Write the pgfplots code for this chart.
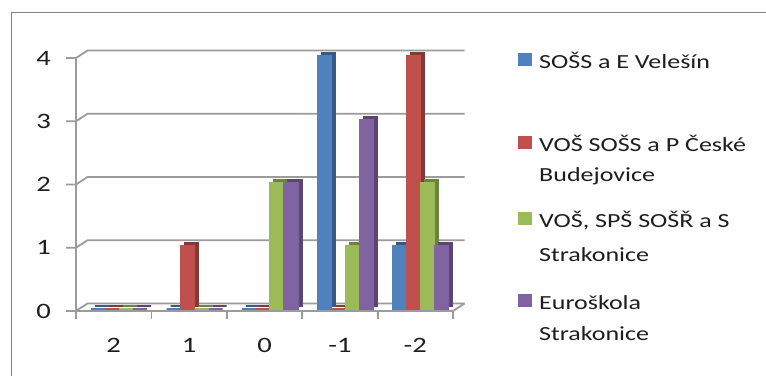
\documentclass[border=0pt]{standalone}
\usepackage{pgfplots}
\pgfplotsset{compat=1.18}
\usepackage{pgfplotstable}
\usepackage{fontspec}
\setmainfont{Carlito}[FakeStretch=1.3]

\definecolor{cA}{HTML}{4F81BD}
\definecolor{cB}{HTML}{C0504D}
\definecolor{cC}{HTML}{9BBB59}
\definecolor{cD}{HTML}{8064A2}
\colorlet{cAd}{cA!70!black}
\colorlet{cBd}{cB!70!black}
\colorlet{cCd}{cC!70!black}
\colorlet{cDd}{cD!70!black}
\definecolor{gridc}{RGB}{155,155,155}
\definecolor{textc}{RGB}{30,30,30}

\pgfplotstableread{
cat s1 s2 s3 s4
0 0 0 0 0
1 0 1 0 0
2 0 0 2 2
3 4 0 1 3
4 1 4 2 1
}\data

\tikzset{gridl/.style={draw=gridc, line width=1.8bp, line join=miter}}
\pgfplotsset{
  barA/.style={ybar, bar width=14bp, bar shift=#1, line width=1.2bp},
}

\begin{document}
\begin{tikzpicture}
\useasboundingbox (0,0) rectangle (766bp,376bp);
\fill[white] (0,0) rectangle (766bp,376bp);
\draw[draw={rgb,255:red,130;green,130;blue,130}, line width=1.2bp] (11.5bp,-10bp) -- (11.5bp,363.5bp) -- (790bp,363.5bp);
\begin{axis}[
  at={(76bp,65bp)}, anchor=south west,
  scale only axis, width=377bp, height=253bp,
  xmin=-0.5, xmax=4.5, ymin=0, ymax=4,
  clip=false,
  axis line style={draw=none},
  major tick length=0pt,
  xtick={0,1,2,3,4}, xticklabels={2,1,0,-1,-2},
  ytick={0,1,2,3,4}, yticklabels={0,1,2,3,4},
  xticklabel style={anchor=north, inner sep=0pt, yshift=-27bp, text=textc, font=\fontsize{22bp}{26bp}\selectfont},
  yticklabel style={anchor=east, inner sep=0pt, xshift=-25bp, text=textc, font=\fontsize{22bp}{26bp}\selectfont},
]
% 3D walls / gridlines
\pgfplotsinvokeforeach{0,1,2,3,4}{
  \draw[gridl] ([xshift=-10bp]axis cs:-0.5,#1) -- (axis cs:-0.5,#1) -- ([shift={(11.5bp,7.5bp)}]axis cs:-0.5,#1) -- ([shift={(11.5bp,7.5bp)}]axis cs:4.5,#1);
}
\draw[gridl] (axis cs:-0.5,0) -- (axis cs:-0.5,4);
\draw[gridl] (axis cs:-0.5,0) -- (axis cs:4.5,0) -- ([shift={(11.5bp,7.5bp)}]axis cs:4.5,0);
\pgfplotsinvokeforeach{-0.5,0.5,1.5,2.5,3.5,4.5}{
  \draw[gridl] (axis cs:#1,0) -- ([yshift=-8bp]axis cs:#1,0);
}
% bars (side face copy, then front face)
\addplot[barA=-21bp, fill=cAd, draw=cAd, xshift=9.5bp, yshift=5bp] table[x=cat,y=s1]{\data};
\addplot[barA=-21bp, fill=cA, draw=cA, xshift=5.5bp, yshift=2bp] table[x=cat,y=s1]{\data};
\addplot[barA=-7bp, fill=cBd, draw=cBd, xshift=9.5bp, yshift=5bp] table[x=cat,y=s2]{\data};
\addplot[barA=-7bp, fill=cB, draw=cB, xshift=5.5bp, yshift=2bp] table[x=cat,y=s2]{\data};
\addplot[barA=7bp, fill=cCd, draw=cCd, xshift=9.5bp, yshift=5bp] table[x=cat,y=s3]{\data};
\addplot[barA=7bp, fill=cC, draw=cC, xshift=5.5bp, yshift=2bp] table[x=cat,y=s3]{\data};
\addplot[barA=21bp, fill=cDd, draw=cDd, xshift=9.5bp, yshift=5bp] table[x=cat,y=s4]{\data};
\addplot[barA=21bp, fill=cD, draw=cD, xshift=5.5bp, yshift=2bp] table[x=cat,y=s4]{\data};
\end{axis}
% legend
\begin{scope}[every node/.style={anchor=base west, inner sep=0pt, text=textc, font=\fontsize{20bp}{30bp}\selectfont}]
\fill[cA] (518bp,310bp) rectangle (532bp,323bp);
\node at (539bp,307bp) {SOŠS a E Velešín};
\fill[cB] (518bp,227bp) rectangle (532bp,240bp);
\node at (539bp,224bp) {VOŠ SOŠS a P České};
\node at (539bp,194bp) {Budejovice};
\fill[cC] (518bp,151bp) rectangle (532bp,164bp);
\node at (539bp,148bp) {VOŠ, SPŠ SOŠŘ a S};
\node at (539bp,114bp) {Strakonice};
\fill[cD] (518bp,69bp) rectangle (532bp,82bp);
\node at (539bp,66bp) {Euroškola};
\node at (539bp,36bp) {Strakonice};
\end{scope}
\end{tikzpicture}
\end{document}
